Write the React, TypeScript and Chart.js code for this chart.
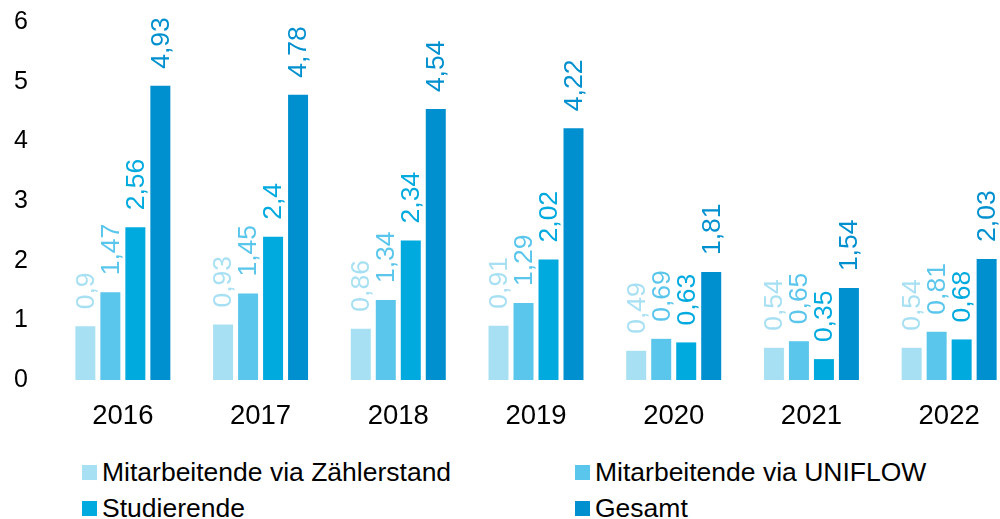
import React, { useEffect, useRef } from "react";
import { Chart, registerables } from "chart.js";

Chart.register(...registerables);

const categories = ["2016", "2017", "2018", "2019", "2020", "2021", "2022"];
const seriesNames = [
  "Mitarbeitende via Zählerstand",
  "Mitarbeitende via UNIFLOW",
  "Studierende",
  "Gesamt",
];
const zaehlerstand = [0.9, 0.93, 0.86, 0.91, 0.49, 0.54, 0.54];
const uniflow = [1.47, 1.45, 1.34, 1.29, 0.69, 0.65, 0.81];
const studierende = [2.56, 2.4, 2.34, 2.02, 0.63, 0.35, 0.68];
const gesamt = [4.93, 4.78, 4.54, 4.22, 1.81, 1.54, 2.03];
const yTicks = [0, 1, 2, 3, 4, 5, 6];

const colors = ["#A8E0F3", "#5BC6EC", "#00AADF", "#0090CF"];
const FONT = "'Liberation Sans', Arial, sans-serif";

const valueLabelPlugin = {
  id: "valueLabels",
  afterDatasetsDraw(chart: any) {
    const ctx = chart.ctx;
    chart.data.datasets.forEach((ds: any, di: number) => {
      const meta = chart.getDatasetMeta(di);
      meta.data.forEach((el: any, i: number) => {
        const v = ds.data[i];
        const txt = String(v).replace(".", ",");
        ctx.save();
        ctx.translate(el.x + 1, el.y - 17);
        ctx.rotate(-Math.PI / 2);
        ctx.font = `26.5px ${FONT}`;
        ctx.fillStyle = colors[di];
        ctx.textAlign = "left";
        ctx.textBaseline = "middle";
        ctx.fillText(txt, 0, 0);
        ctx.restore();
      });
    });
  },
};

export default function App() {
  const ref = useRef<HTMLCanvasElement>(null);

  useEffect(() => {
    if (!ref.current) return;
    const seriesData = [zaehlerstand, uniflow, studierende, gesamt];
    const chart = new Chart(ref.current, {
      type: "bar",
      data: {
        labels: categories,
        datasets: seriesData.map((d, i) => ({
          label: seriesNames[i],
          data: d,
          backgroundColor: colors[i],
          borderWidth: 0,
          categoryPercentage: 0.726,
          barPercentage: 0.8,
        })),
      },
      options: {
        responsive: false,
        animation: false,
        devicePixelRatio: 1,
        layout: { padding: { top: 22, right: 0, bottom: 0, left: 14 } },
        plugins: {
          legend: { display: false },
          tooltip: { enabled: false },
        },
        scales: {
          x: {
            offset: true,
            grid: { display: false, drawTicks: false },
            border: { display: false },
            ticks: {
              color: "#000",
              font: { family: FONT, size: 27.5 },
              padding: 20,
            },
            afterFit: (s: any) => {
              s.height = 60;
            },
          },
          y: {
            min: 0,
            max: 6,
            grid: { display: false, drawTicks: false },
            border: { display: false },
            afterBuildTicks: (s: any) => {
              s.ticks = yTicks.map((v) => ({ value: v }));
            },
            ticks: {
              color: "#000",
              font: { family: FONT, size: 25 },
              padding: 0,
              crossAlign: "far",
            },
            afterFit: (s: any) => {
              s.width = 40;
            },
          },
        },
      },
      plugins: [valueLabelPlugin],
    });
    return () => chart.destroy();
  }, []);

  const legendItem = (i: number, left: number, top: number) => (
    <div
      key={i}
      style={{
        position: "absolute",
        left,
        top,
        display: "flex",
        alignItems: "center",
        font: `26.5px ${FONT}`,
        color: "#000",
        whiteSpace: "nowrap",
        lineHeight: "30px",
      }}
    >
      <span
        style={{
          display: "inline-block",
          width: 15,
          height: 15,
          background: colors[i],
          marginRight: 5,
        }}
      />
      {seriesNames[i]}
    </div>
  );

  return (
    <div
      style={{
        position: "fixed",
        left: 0,
        top: 0,
        width: 1000,
        height: 519,
        overflow: "hidden",
        background: "#fff",
      }}
    >
      <canvas
        ref={ref}
        width={1018}
        height={440}
        style={{ position: "absolute", left: 0, top: 0, width: 1018, height: 440 }}
      />
      {legendItem(0, 82, 457)}
      {legendItem(1, 575, 457)}
      {legendItem(2, 82, 493)}
      {legendItem(3, 575, 493)}
    </div>
  );
}
